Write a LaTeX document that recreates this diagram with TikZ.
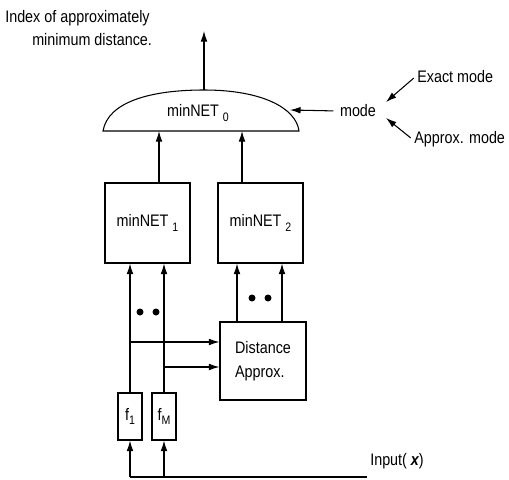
\documentclass[tikz,border=0pt]{standalone}
\usepackage{fontspec}
\setmainfont{Liberation Sans}[FakeStretch=0.86]
\usetikzlibrary{arrows.meta}
\begin{document}
\begin{tikzpicture}[x=0.02cm,y=-0.02cm,
  every node/.style={font=\fontsize{9.5}{13.6}\selectfont, inner sep=1pt},
  arr/.style={-{Latex[length=6pt,width=3.8pt]}},
  box/.style={draw, line width=0.6pt, minimum width=#1*0.02cm},
  dot/.style={fill=black, circle, inner sep=0pt, minimum size=0.14cm},
  lbl/.style={anchor=west}]
\useasboundingbox (0,0) rectangle (509,479);
\tikzset{every path/.append style={line width=0.6pt}}

% title
\node[lbl] (t1) at (3,18) {Index of approximately};
\node[lbl] (t2) at (30,40) {minimum distance.};

% dome
\draw (103,131) .. controls (108,102) and (150,90) .. (204,90)
      .. controls (262,90) and (296,108) .. (299,131) -- cycle;
\coordinate (domeTop) at (204,90);
\coordinate (outTip) at (204,31);
\coordinate (domeB) at (200,131);
\coordinate (modeIn) at (290,110);
\node (n0) at (198,113) {minNET \raisebox{-0.6ex}{\scriptsize 0}};
\draw[arr] (domeTop) -- (outTip);

% mode
\node (mode) at (358,111) {mode};
\node[lbl] (exact) at (415,77) {Exact mode};
\node[lbl] (approx) at (412,139) {Approx. mode};
\coordinate (eTip) at (386,102);
\coordinate (aTip) at (386,118);
\draw[arr, shorten <=2.5pt] (mode.west) -- (modeIn);
\draw[arr, shorten <=1pt] (exact.west) -- (eTip);
\draw[arr, shorten <=1pt] (approx.west) -- (aTip);

% minNET boxes
\node[box=85, minimum height=1.6cm] (m1) at (147.5,223) {minNET \raisebox{-0.6ex}{\scriptsize 1}};
\node[box=85, minimum height=1.6cm] (m2) at (260.5,223) {minNET \raisebox{-0.6ex}{\scriptsize 2}};
\draw[arr] (m1.north -| 159,0) -- (domeB -| 159,0);
\draw[arr] (m2.north -| 242,0) -- (domeB -| 242,0);

% distance approx
\node[box=86, minimum height=1.56cm, align=left] (dist) at (263,361) {Distance\\Approx.};

% f boxes
\node[box=24, minimum height=0.94cm] (f1) at (130,416.5) {f\raisebox{-0.5ex}{\scriptsize 1}};
\node[box=24, minimum height=0.94cm] (fM) at (164,416.5) {f\raisebox{-0.5ex}{\scriptsize M}};

\draw[arr] (f1.north) -- (f1.north |- m1.south);
\draw[arr] (fM.north) -- (fM.north |- m1.south);
\coordinate (b1) at (130,342);
\coordinate (b2) at (164,367);
\draw[arr] (b1) -- (b1 -| dist.west);
\draw[arr] (b2) -- (b2 -| dist.west);

\coordinate (d1) at (237,322);
\coordinate (d2) at (282,322);
\draw[arr] (d1) -- (d1 |- m2.south);
\draw[arr] (d2) -- (d2 |- m2.south);

\node[dot] (p1) at (140,312) {};
\node[dot] (p2) at (156,312) {};
\node[dot] (p3) at (252,298) {};
\node[dot] (p4) at (268,298) {};

% input
\coordinate (in1) at (130,477);
\coordinate (in2) at (164,477);
\coordinate (inEnd) at (367,477);
\draw (in1) -- (inEnd);
\draw[arr] (in1) -- (f1.south);
\draw[arr] (in2) -- (fM.south);
\node[lbl] (input) at (368,461) {Input( {\bfseries\itshape x})};
\end{tikzpicture}
\end{document}
